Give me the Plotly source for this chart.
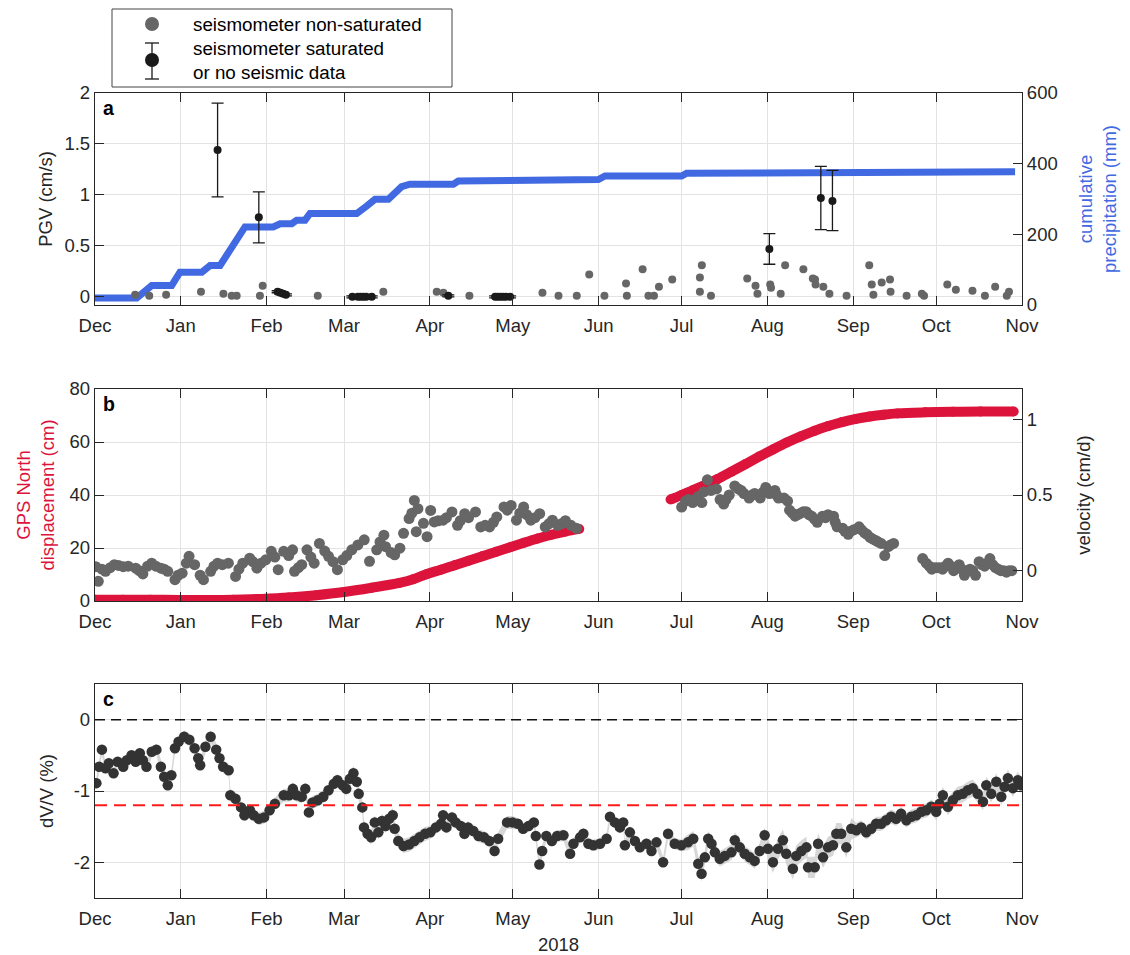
import pandas as pd
import plotly.graph_objects as go

# ---------------- data (days counted from 2017-12-01) ----------------
START = "2017-12-01"

# Panel a: cumulative precipitation (mm)
precip_day = [0, 15.1, 20.5, 27.7, 30.7, 38.6, 41.6, 45.2, 54.2, 64.4, 66.9, 71.1, 72.9, 75.9, 77.7,
              94.6, 98.2, 101.2, 106, 110.8, 113.8, 129.5, 131.3, 147, 148.8, 181.9, 184.3, 212,
              213.8, 230.1, 231.9, 332.5]
precip_mm = [20, 20, 55, 55, 93, 93, 112, 112, 221, 221, 230, 230, 240, 240, 259,
             259, 280, 299, 299, 335, 342, 342, 351, 351, 355, 355, 365, 365,
             373, 373, 377, 377]

# Panel a: PGV, seismometer non-saturated (cm/s)
pgv_day = [14.5, 19.6, 25.7, 38.3, 46.4, 49.4, 51.2, 59.6, 60.6, 80.5, 104.2, 123.5, 125.9, 135.3,
           161.7, 167.5, 174.1, 178.6, 184.1, 191.9, 192.2, 197.9, 200, 202, 203.8, 208.6, 218.6,
           219.3, 218.6, 222.6, 235.7, 238.7, 239.4, 244, 244.3, 247.8, 249.4, 256, 259.4, 260.2,
           260.4, 263.2, 265.4, 271.6, 279.8, 280.7, 281.3, 284.3, 287.3, 287.5, 293.3, 298.8,
           299.6, 308, 311.1, 317.1, 321.6, 325.3, 329.5, 330.3]
pgv_val = [0.02, 0.01, 0.02, 0.05, 0.03, 0.01, 0.01, 0.01, 0.11, 0.01, 0.05, 0.05, 0.04, 0.01,
           0.04, 0.01, 0.01, 0.22, 0.01, 0.13, 0.01, 0.27, 0.01, 0.01, 0.10, 0.17, 0.19,
           0.31, 0.05, 0.01, 0.18, 0.11, 0.03, 0.12, 0.09, 0.03, 0.31, 0.27, 0.18, 0.17,
           0.12, 0.10, 0.03, 0.01, 0.31, 0.12, 0.02, 0.14, 0.17, 0.05, 0.01, 0.03,
           0.01, 0.12, 0.07, 0.06, 0.01, 0.10, 0.01, 0.05]

# Panel a: PGV, seismometer saturated or no seismic data (cm/s) with error bars
sat_day = [44.3, 59.2, 66, 67, 68, 69, 93, 95, 96, 97, 98, 100, 127.7,
           144.6, 145.5, 146.5, 147.5, 148.5, 150, 243.7, 262.3, 266.5]
sat_val = [1.44, 0.78, 0.05, 0.04, 0.03, 0.02, 0.0, 0.0, 0.0, 0.0, 0.0, 0.0, 0.01,
           0.0, 0.0, 0.0, 0.0, 0.0, 0.0, 0.47, 0.97, 0.94]
sat_err_hi = [0.46, 0.25, 0.01, 0.01, 0.01, 0.01, 0.01, 0.01, 0.01, 0.01, 0.01, 0.01, 0.01,
              0.01, 0.01, 0.01, 0.01, 0.01, 0.01, 0.15, 0.31, 0.30]
sat_err_lo = [0.46, 0.25, 0.01, 0.01, 0.01, 0.01, 0.01, 0.01, 0.01, 0.01, 0.01, 0.01, 0.01,
              0.01, 0.01, 0.01, 0.01, 0.01, 0.01, 0.15, 0.31, 0.29]

# Panel b: GPS North displacement (cm), two segments
gps_day1 = [0, 10, 20, 30, 40, 50, 60, 70, 80, 90, 100, 110, 115, 120, 125, 130, 135, 140,
            145, 150, 155, 160, 165, 170, 175]
gps_cm1 = [0.5, 0.5, 0.5, 0.4, 0.4, 0.5, 0.8, 1.3, 2.2, 3.4, 5.0, 6.8, 8.2, 10.2, 11.8, 13.5,
           15.2, 16.9, 18.6, 20.3, 22.0, 23.6, 25.0, 26.2, 27.2]
gps_day2 = [208, 212, 216, 220, 225, 230, 235, 240, 245, 250, 255, 260, 265, 270, 275, 280,
            285, 290, 300, 310, 320, 332]
gps_cm2 = [38.3, 40.0, 41.8, 43.6, 46.0, 48.8, 51.6, 54.5, 57.2, 59.8, 62.1, 64.2, 66.0, 67.5,
           68.7, 69.6, 70.3, 70.8, 71.2, 71.4, 71.5, 71.5]

# Panel b: velocity (cm/d)
vel_day = [0.3, 1.2, 2.5, 3.8, 5.5, 7, 8.5, 10.2, 12, 14.7, 16, 17.3, 19, 20.5, 22, 23.8, 25,
           26.3, 28.9, 30, 31.5, 33, 34, 36, 38, 39.2, 41.8, 43, 44.3, 46, 48.2, 50.8, 52, 53.4,
           55.9, 57, 58.5, 60, 61.7, 63.7, 65, 66.2, 68.2, 70, 71.4, 72.1, 73.5, 74.7, 76.6,
           78, 79.2, 81.1, 83, 84.4, 86, 87.6, 89.5, 91, 92.8, 95, 97.3, 99.2, 101.8, 103,
           104.4, 105, 107, 108.3, 110.2, 111.5, 113.5, 114.5, 115.4, 116.1, 116.7, 118.7, 120,
           121.3, 122.6, 124, 125.8, 127, 129, 131, 132, 133.6, 135, 137.5, 139.4, 141, 142.6,
           144, 145.2, 147.8, 149, 150.4, 152.3, 153.5, 154.9, 156, 157.5, 159, 160.7, 162.7,
           164, 165.3, 167.2, 168.5, 170, 172, 174,
           212, 213.4, 214.5, 216, 217, 218, 219.3, 220, 221.3, 222.6, 224.6, 225.9, 227.2, 228,
           229.2, 231.2, 232.5, 233.5, 234.5, 236.4, 237.5, 238.4, 240.4, 241.5, 242.4, 243.7,
           245.7, 246.3, 247, 249, 250.3, 251, 252, 253, 254, 255, 256, 257, 258, 259, 260, 261,
           262.9, 264, 264.9, 266.9, 267.5, 268.2, 270.2, 271, 272.2, 273, 274.2, 276.1, 277,
           278.1, 279, 280.1, 281, 282.1, 283, 284.1, 285.4, 286.7, 287.5, 288.6,
           299.1, 300.4, 301.5, 302.4, 303.3, 304.3, 305.3, 306.3, 307.3, 308.3, 309.3, 310.3,
           311.3, 312.3, 313.2, 314.2, 315.2, 316.2, 317.2, 318.2, 319.5, 320.5, 321.5, 322.5,
           323.4, 324.4, 325.4, 326.4, 327.4, 328.4, 329.4, 330.3, 331.3]
vel_val = [0.027, -0.07, 0.01, -0.004, 0.02, 0.04, 0.035, 0.027, 0.03, 0.017, 0.0, -0.021, 0.03,
           0.05, 0.03, 0.017, 0.01, -0.004, -0.059, -0.03, -0.016, 0.05, 0.095, 0.04, -0.03,
           -0.059, -0.004, 0.03, 0.05, 0.04, 0.05, -0.038, 0.01, 0.05, 0.083, 0.06, 0.017, 0.05,
           0.072, 0.128, 0.09, 0.007, 0.128, 0.1, 0.138, -0.004, 0.02, 0.04, 0.138, 0.09, 0.05,
           0.18, 0.13, 0.095, 0.06, 0.007, 0.072, 0.1, 0.138, 0.17, 0.204, 0.062, 0.138, 0.19,
           0.235, 0.159, 0.12, 0.105, 0.149, 0.247, 0.344, 0.38, 0.464, 0.258, 0.41, 0.313,
           0.225, 0.398, 0.322, 0.33, 0.334, 0.35, 0.388, 0.3, 0.33, 0.377, 0.35, 0.388, 0.289,
           0.3, 0.289, 0.32, 0.355, 0.421, 0.4, 0.431, 0.334, 0.38, 0.421, 0.37, 0.334, 0.35,
           0.377, 0.289, 0.31, 0.334, 0.3, 0.31, 0.33, 0.30, 0.28,
           0.42, 0.46, 0.47, 0.45, 0.47, 0.49, 0.45, 0.52, 0.60, 0.53, 0.54, 0.47, 0.44, 0.47,
           0.50, 0.56, 0.54, 0.53, 0.51, 0.48, 0.50, 0.51, 0.48, 0.52, 0.55, 0.51,
           0.53, 0.50, 0.48, 0.48, 0.46, 0.40, 0.38, 0.36, 0.37, 0.38, 0.39, 0.39, 0.37, 0.36,
           0.34, 0.32,
           0.36, 0.35, 0.37, 0.36, 0.32, 0.29, 0.28, 0.26, 0.24, 0.26, 0.27, 0.29, 0.27,
           0.25, 0.24, 0.22, 0.21, 0.20, 0.19, 0.18, 0.10, 0.16, 0.17, 0.18,
           0.08, 0.05, 0.03, 0.01, 0.02, 0.02, 0.02, 0.01, 0.03, 0.05, 0.03, 0.0,
           0.02, 0.04, 0.01, -0.03, 0.0, 0.01, 0.0, -0.03, 0.06, 0.04, 0.03, 0.05,
           0.08, 0.04, 0.02, 0.01, 0.0, 0.0, -0.01, 0.0, 0.0]

# Panel c: dV/V (%)
dvv_day = [0.5, 1.5, 2.5, 3.8, 5, 6.7, 8.2, 10.2, 11.5, 13.2, 14.7, 16.2, 17.3, 18.6, 20.5, 22.2,
           23.8, 25, 26.3, 27.6, 28.9, 30.2, 32.2, 34.1, 36, 37.3, 38, 39.9, 41.8, 43.8, 45,
           46.3, 48.3, 48.9, 50.8, 52.8, 54, 56, 57.3, 59.2, 61.1, 63.1, 65, 68.2, 70.2, 71.5,
           72.8, 74.7, 76, 77.3, 78.6, 80.5, 82.5, 84.4, 86.3, 87.6, 89.5, 90.8, 92.1, 93.4,
           94.6, 95.3, 96.6, 97.2, 98.5, 99.8, 101.1, 102.4, 103.7, 105, 106.3, 107.6, 108.3,
           109.6, 111.5, 113.5, 115.4, 117.3, 119.3, 121.2, 123.2, 125.1, 125.8, 127, 129,
           130.3, 132.2, 133.5, 134.8, 136.7, 138.6, 140.6, 142.5, 144.4, 145.7,
           148.9, 150.9, 152.8, 154.7, 156.7, 158.6, 159.3, 160.6, 161.6, 163.1, 165.1, 167,
           169.3, 171.7, 172.9, 175.3, 176.5, 178.3, 180.1, 182.5, 184.9, 186.1, 187.9, 189.7,
           190.9, 191.5, 193.3, 195.1, 196.9, 199.3, 201.1, 202.9, 205.3, 207.1, 209.5, 211.9,
           214.3, 216.2, 218, 219.2, 220.4, 221.6, 222.8, 224, 225.8, 227.6, 230, 231.2, 233,
           234.8, 236.6, 238.4, 240.2, 242, 243.2, 245, 246.8, 248.6, 249.8, 252.2, 253.4,
           255.3, 257.1, 257.7, 260.1, 261.3, 263.1, 264.9, 266.7, 267.9, 269.7, 271.5, 273.3,
           275.1, 276.9, 278.7, 280.5, 282.3, 284.1, 285.9, 287.7, 289.5, 291.3, 293.2, 295,
           296.8, 298.6, 300.4, 302.2, 304, 305.2, 306.4, 308.2, 310, 311.8, 313.6, 315.4,
           317.2, 319, 320.9, 322.1, 323.9, 325.7, 327.5, 328.7, 329.9, 331.7, 333.5, 334.7]
dvv_val = [-0.89, -0.66, -0.42, -0.68, -0.61, -0.75, -0.59, -0.66, -0.57, -0.50, -0.59, -0.47,
           -0.57, -0.66, -0.45, -0.42, -0.66, -0.80, -0.92, -0.78, -0.40, -0.31, -0.24, -0.28,
           -0.40, -0.54, -0.64, -0.38, -0.24, -0.42, -0.54, -0.66, -0.71, -1.06, -1.11, -1.23,
           -1.34, -1.27, -1.34, -1.39, -1.37, -1.27, -1.18, -1.06, -1.06, -0.97, -1.06, -1.08,
           -0.97, -1.30, -1.16, -1.13, -1.08, -0.99, -0.90, -0.85, -0.92, -0.97, -0.83, -0.75,
           -0.87, -1.04, -1.23, -1.51, -1.60, -1.65, -1.44, -1.58, -1.42, -1.49, -1.39, -1.34,
           -1.53, -1.70, -1.77, -1.75, -1.70, -1.65, -1.60, -1.58, -1.51, -1.46, -1.34, -1.51,
           -1.37, -1.44, -1.49, -1.60, -1.51, -1.56, -1.63, -1.65, -1.70, -1.84, -1.67,
           -1.44, -1.44, -1.46, -1.53, -1.49, -1.44, -1.63, -2.03, -1.84, -1.63, -1.70, -1.63,
           -1.62, -1.88, -1.74, -1.65, -1.60, -1.74, -1.76, -1.74, -1.67, -1.36, -1.44, -1.51,
           -1.44, -1.76, -1.58, -1.70, -1.79, -1.74, -1.84, -1.72, -2.00, -1.60, -1.74, -1.76,
           -1.72, -1.67, -2.02, -2.16, -1.93, -1.67, -1.74, -1.86, -1.95, -1.91, -1.86, -1.69,
           -1.79, -1.88, -1.93, -1.98, -1.84, -1.62, -1.81, -2.00, -1.81, -1.69, -1.88, -2.09,
           -1.91, -1.84, -1.79, -2.07, -2.07, -1.74, -1.93, -1.79, -1.76, -1.60, -1.60, -1.79,
           -1.53, -1.55, -1.51, -1.58, -1.53, -1.46, -1.46, -1.41, -1.36, -1.39, -1.32, -1.41,
           -1.36, -1.34, -1.29, -1.27, -1.22, -1.29, -1.18, -1.06, -1.22, -1.13, -1.06, -1.04,
           -0.99, -0.96, -1.04, -1.15, -0.92, -1.04, -0.87, -1.08, -0.94, -0.82, -0.96, -0.85,
           -0.92]
# dV/V uncertainty (half-width of grey band, %) by calendar month
dvv_err_by_month = {12: 0.08, 1: 0.09, 2: 0.09, 3: 0.10, 4: 0.09, 5: 0.08, 6: 0.08,
                    7: 0.11, 8: 0.15, 9: 0.10, 10: 0.12, 11: 0.12}

# ---------------- helpers ----------------
start = pd.Timestamp(START)


def dates(days):
    return [start + pd.Timedelta(days=float(d)) for d in days]


OFF = 8                      # default page body margin in the browser
W, H = 1130 - OFF, 955 - OFF
L, R, T, B = 95 - OFF, 108, 93 - OFF, 57
PW, PH = W - L - R, H - T - B


def px_x(p):                 # window pixel -> paper x
    return (p - OFF - L) / PW


def px_y(p):                 # window pixel -> paper y
    return (H - B - (p - OFF)) / PH


BLUE = "#4169E1"
RED = "#DC143C"
GREY = "#666666"
DARK = "#333333"
BLACK = "#1a1a1a"
AX = "#262626"
GRID = "#e3e3e3"
FONT = "Liberation Sans, Arial, Helvetica, sans-serif"
FS = 18.5

fig = go.Figure()

# ---- panel a ----
fig.add_trace(go.Scatter(x=dates(precip_day), y=precip_mm, mode="lines",
                         line=dict(color=BLUE, width=7), xaxis="x", yaxis="y",
                         showlegend=False, hoverinfo="skip"))
fig.add_trace(go.Scatter(x=dates(pgv_day), y=pgv_val, mode="markers",
                         marker=dict(color=GREY, size=8), xaxis="x", yaxis="y2",
                         name="seismometer non-saturated", showlegend=False))
fig.add_trace(go.Scatter(x=dates(sat_day), y=sat_val, mode="markers",
                         marker=dict(color=BLACK, size=8),
                         error_y=dict(type="data", array=sat_err_hi, arrayminus=sat_err_lo,
                                      color=BLACK, thickness=1.3, width=6),
                         xaxis="x", yaxis="y2", name="seismometer saturated or no seismic data",
                         showlegend=False))

# ---- panel b ----
for dd, cc in ((gps_day1, gps_cm1), (gps_day2, gps_cm2)):
    fig.add_trace(go.Scatter(x=dates(dd), y=cc, mode="lines+markers",
                             line=dict(color=RED, width=10, shape="spline"),
                             marker=dict(color=RED, size=10),
                             xaxis="x2", yaxis="y3", showlegend=False))
fig.add_trace(go.Scatter(x=dates(vel_day), y=vel_val, mode="markers",
                         marker=dict(color=GREY, size=11), xaxis="x2", yaxis="y4",
                         showlegend=False))

# ---- panel c ----
order = sorted(range(len(dvv_day)), key=lambda i: dvv_day[i])
d_sorted = dates([dvv_day[i] for i in order])
v_sorted = [dvv_val[i] for i in order]
e_sorted = [dvv_err_by_month[d.month] for d in d_sorted]
band_x = d_sorted + d_sorted[::-1]
band_y = [v + e for v, e in zip(v_sorted, e_sorted)] + \
         [v - e for v, e in zip(v_sorted, e_sorted)][::-1]
fig.add_trace(go.Scatter(x=band_x, y=band_y, mode="lines", fill="toself",
                         fillcolor="rgba(205,205,205,0.8)", line=dict(width=0),
                         xaxis="x3", yaxis="y5", showlegend=False, hoverinfo="skip"))
fig.add_trace(go.Scatter(x=dates(dvv_day), y=dvv_val, mode="markers",
                         marker=dict(color=DARK, size=10.5), xaxis="x3", yaxis="y5",
                         showlegend=False))

# ---------------- axes ----------------
xr = [start, start + pd.Timedelta(days=335)]
xcommon = dict(range=xr, tickformat="%b", dtick="M1", tick0=START, ticks="inside",
               ticklen=9, tickcolor=AX, showline=True, linecolor=AX, linewidth=1.3,
               mirror="ticks", showgrid=True, gridcolor=GRID, gridwidth=1, zeroline=False,
               ticklabelstandoff=4, automargin=False,
               tickfont=dict(size=FS, color=AX, family=FONT))
ycommon = dict(ticks="inside", ticklen=9, tickcolor=AX, showline=True, linecolor=AX,
               linewidth=1.3, zeroline=False, automargin=False,
               tickfont=dict(size=FS, color=AX, family=FONT))

da = [px_y(305), px_y(93)]
db = [px_y(601), px_y(389)]
dc = [px_y(898), px_y(684)]

fig.update_layout(
    xaxis=dict(domain=[0, 1], anchor="y", **xcommon),
    yaxis=dict(domain=da, anchor="x", side="right", range=[0, 600],
               tickvals=[0, 200, 400, 600], showgrid=False,
               title=dict(text="cumulative<br>precipitation (mm)",
                          font=dict(color=BLUE, size=FS, family=FONT), standoff=22),
               **ycommon),
    yaxis2=dict(overlaying="y", anchor="x", side="left", range=[-0.08, 2],
                tickvals=[0, 0.5, 1, 1.5, 2], ticktext=["0", "0.5", "1", "1.5", "2"],
                showgrid=True, gridcolor=GRID,
                title=dict(text="PGV (cm/s)", font=dict(color=AX, size=FS, family=FONT),
                           standoff=6),
                **ycommon),
    xaxis2=dict(domain=[0, 1], anchor="y3", **xcommon),
    yaxis3=dict(domain=db, anchor="x2", side="left", range=[0, 80],
                tickvals=[0, 20, 40, 60, 80], showgrid=True, gridcolor=GRID,
                title=dict(text="GPS North<br>displacement (cm)",
                           font=dict(color=RED, size=FS, family=FONT), standoff=10),
                **ycommon),
    yaxis4=dict(overlaying="y3", anchor="x2", side="right", range=[-0.2, 1.2],
                tickvals=[0, 0.5, 1], ticktext=["0", "0.5", "1"], showgrid=False,
                title=dict(text="velocity (cm/d)", font=dict(color=AX, size=FS, family=FONT),
                           standoff=25),
                **ycommon),
    xaxis3=dict(domain=[0, 1], anchor="y5",
                title=dict(text="2018", font=dict(color=AX, size=FS, family=FONT), standoff=14),
                **xcommon),
    yaxis5=dict(domain=dc, anchor="x3", range=[-2.5, 0.5], tickvals=[-2, -1, 0],
                ticktext=["-2", "-1", "0"], showgrid=True, gridcolor=GRID, mirror="ticks",
                title=dict(text="dV/V (%)", font=dict(color=AX, size=FS, family=FONT),
                           standoff=15),
                **ycommon),
)

# dashed reference lines in panel c
fig.add_shape(type="line", xref="x3 domain", yref="y5", x0=0, x1=1, y0=0, y1=0,
              line=dict(color="#111111", width=1.5, dash="10px,6px"))
fig.add_shape(type="line", xref="x3 domain", yref="y5", x0=0, x1=1, y0=-1.2, y1=-1.2,
              line=dict(color="#ff1a1a", width=2, dash="12px,7px"))

# panel letters
for letter, ypx in (("a", 108), ("b", 404), ("c", 699)):
    fig.add_annotation(text=f"<b>{letter}</b>", xref="paper", yref="paper",
                       x=px_x(101), y=px_y(ypx), xanchor="left", yanchor="middle",
                       showarrow=False, font=dict(size=19.5, color="black", family=FONT))

# ---------------- manual legend ----------------
fig.add_shape(type="rect", xref="paper", yref="paper", x0=px_x(112), x1=px_x(452),
              y0=px_y(87), y1=px_y(9), line=dict(color="#444444", width=1),
              fillcolor="white")
fig.add_shape(type="circle", xref="paper", yref="paper", x0=px_x(145), x1=px_x(159),
              y0=px_y(31), y1=px_y(17), line=dict(width=0), fillcolor=GREY)
fig.add_shape(type="line", xref="paper", yref="paper", x0=px_x(152), x1=px_x(152),
              y0=px_y(43), y1=px_y(79), line=dict(color=BLACK, width=1.3))
for ycap in (43, 79):
    fig.add_shape(type="line", xref="paper", yref="paper", x0=px_x(145), x1=px_x(159),
                  y0=px_y(ycap), y1=px_y(ycap), line=dict(color=BLACK, width=1.3))
fig.add_shape(type="circle", xref="paper", yref="paper", x0=px_x(145), x1=px_x(159),
              y0=px_y(67), y1=px_y(53), line=dict(width=0), fillcolor=BLACK)
fig.add_annotation(text="seismometer non-saturated", xref="paper", yref="paper",
                   x=px_x(191), y=px_y(24), xanchor="left", yanchor="middle",
                   showarrow=False, font=dict(size=18.8, color="black", family=FONT))
fig.add_annotation(text="seismometer saturated<br>or no seismic data", xref="paper",
                   yref="paper", x=px_x(191), y=px_y(60), xanchor="left", yanchor="middle",
                   align="left", showarrow=False,
                   font=dict(size=18.8, color="black", family=FONT))

fig.update_layout(width=W, height=H, margin=dict(l=L, r=R, t=T, b=B),
                  paper_bgcolor="white", plot_bgcolor="white",
                  font=dict(family=FONT, size=FS, color=AX), showlegend=False)

fig.write_html("out.html")
